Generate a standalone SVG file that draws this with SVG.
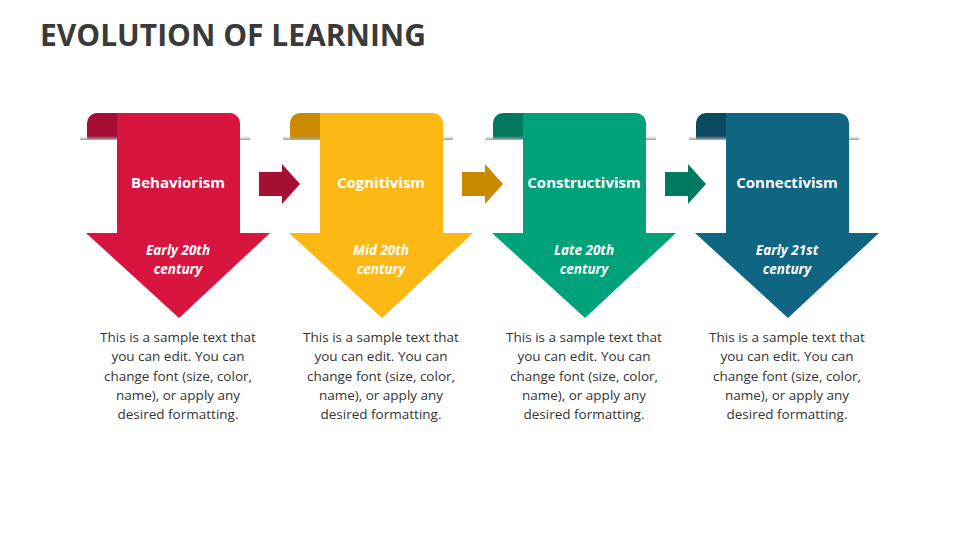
<svg xmlns="http://www.w3.org/2000/svg" width="960" height="540" viewBox="0 0 960 540">
<defs>
<style>
.t{font-family:"Open Sans","Liberation Sans",sans-serif;fill:#fff;font-weight:bold;text-anchor:middle}
.h{font-size:15px}
.s{font-size:13.5px;font-style:italic}
.b{font-family:"Open Sans","Liberation Sans",sans-serif;font-size:13.5px;fill:#333;text-anchor:middle}
</style>
<linearGradient id="sh" x1="0" y1="0" x2="0" y2="1"><stop offset="0" stop-color="#bbb" stop-opacity="0"/><stop offset="1" stop-color="#999"/></linearGradient>
<g id="big">
<path d="M87,139 V123 A10,10 0 0 1 97,113 H117 V139 Z" class="dk"/>
<rect x="80" y="135" width="170" height="5" fill="url(#sh)"/>
<path d="M117,113 H230 A10,10 0 0 1 240,123 V233 H270 L179,318 L86,233 H117 Z" class="mn"/>
</g>
<path id="sm" d="M259,172 H282 V164 L300,184 L282,204 V196 H259 Z"/>
</defs>
<text x="40" y="46" font-family="Open Sans, Liberation Sans, sans-serif" font-weight="bold" font-size="30" fill="#3a3a3a">EVOLUTION OF LEARNING</text>
<g id="connectors">
<use href="#sm" fill="#A50F33"/>
<use href="#sm" x="203" fill="#C98A00"/>
<use href="#sm" x="406" fill="#007A5E"/>
</g>
<g id="n1">
<path d="M87,139 V123 A10,10 0 0 1 97,113 H117 V139 Z" fill="#A50F33"/>
<rect x="80" y="136" width="170" height="4" fill="url(#sh)"/>
<path d="M117,113 H230 A10,10 0 0 1 240,123 V233 H270 L179,318 L86,233 H117 Z" fill="#D7153F"/>
<text class="t h" x="178" y="188">Behaviorism</text>
<text class="t s" x="178" y="255">Early 20th</text><text class="t s" x="178" y="274">century</text>
<text class="b" x="178" y="342">This is a sample text that</text><text class="b" x="178" y="361">you can edit. You can</text><text class="b" x="178" y="381">change font (size, color,</text><text class="b" x="178" y="400">name), or apply any</text><text class="b" x="178" y="419">desired formatting.</text>
</g>
<g id="n2" transform="translate(203,0)">
<path d="M87,139 V123 A10,10 0 0 1 97,113 H117 V139 Z" fill="#C98A00"/>
<rect x="80" y="136" width="170" height="4" fill="url(#sh)"/>
<path d="M117,113 H230 A10,10 0 0 1 240,123 V233 H270 L179,318 L86,233 H117 Z" fill="#FDB813"/>
<text class="t h" x="178" y="188">Cognitivism</text>
<text class="t s" x="178" y="255">Mid 20th</text><text class="t s" x="178" y="274">century</text>
<text class="b" x="178" y="342">This is a sample text that</text><text class="b" x="178" y="361">you can edit. You can</text><text class="b" x="178" y="381">change font (size, color,</text><text class="b" x="178" y="400">name), or apply any</text><text class="b" x="178" y="419">desired formatting.</text>
</g>
<g id="n3" transform="translate(406,0)">
<path d="M87,139 V123 A10,10 0 0 1 97,113 H117 V139 Z" fill="#007A5E"/>
<rect x="80" y="136" width="170" height="4" fill="url(#sh)"/>
<path d="M117,113 H230 A10,10 0 0 1 240,123 V233 H270 L179,318 L86,233 H117 Z" fill="#00A27A"/>
<text class="t h" x="178" y="188">Constructivism</text>
<text class="t s" x="178" y="255">Late 20th</text><text class="t s" x="178" y="274">century</text>
<text class="b" x="178" y="342">This is a sample text that</text><text class="b" x="178" y="361">you can edit. You can</text><text class="b" x="178" y="381">change font (size, color,</text><text class="b" x="178" y="400">name), or apply any</text><text class="b" x="178" y="419">desired formatting.</text>
</g>
<g id="n4" transform="translate(609,0)">
<path d="M87,139 V123 A10,10 0 0 1 97,113 H117 V139 Z" fill="#0B4A60"/>
<rect x="80" y="136" width="170" height="4" fill="url(#sh)"/>
<path d="M117,113 H230 A10,10 0 0 1 240,123 V233 H270 L179,318 L86,233 H117 Z" fill="#0F6582"/>
<text class="t h" x="178" y="188">Connectivism</text>
<text class="t s" x="178" y="255">Early 21st</text><text class="t s" x="178" y="274">century</text>
<text class="b" x="178" y="342">This is a sample text that</text><text class="b" x="178" y="361">you can edit. You can</text><text class="b" x="178" y="381">change font (size, color,</text><text class="b" x="178" y="400">name), or apply any</text><text class="b" x="178" y="419">desired formatting.</text>
</g>
</svg>
